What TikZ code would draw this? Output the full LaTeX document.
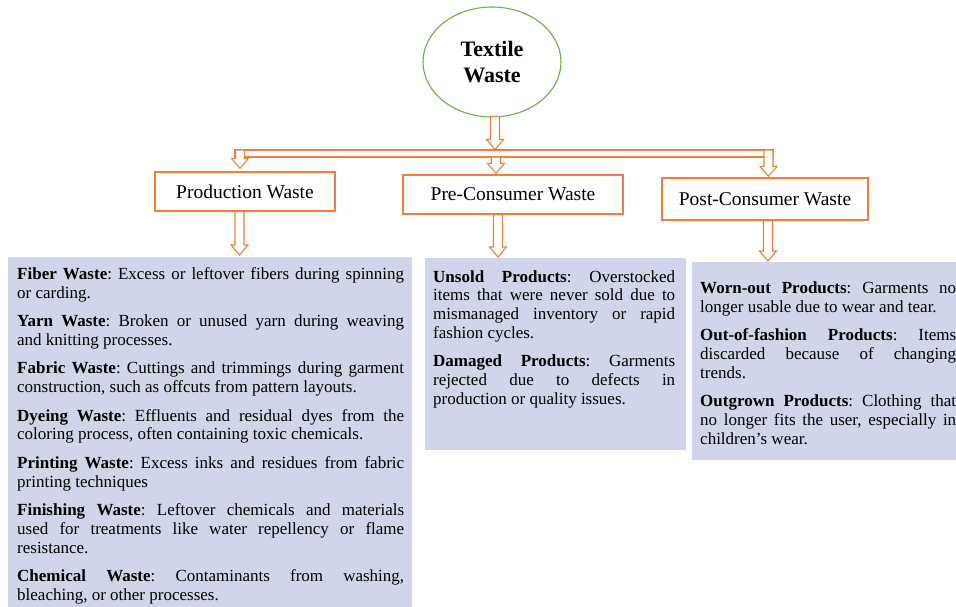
\documentclass[tikz,border=0pt]{standalone}
\usepackage{fontspec}
\setmainfont{Liberation Serif}
\usetikzlibrary{shapes.geometric,calc}

\definecolor{wasteorange}{RGB}{240,128,55}
\definecolor{rootgreen}{RGB}{112,173,71}
\definecolor{listfill}{RGB}{209,213,233}

% body text of the three lists: justified, no hyphenation
\newcommand\listfont{\fontsize{17}{18.8}\selectfont\frenchspacing
  \setlength\parskip{9.6pt}\setlength\parindent{0pt}%
  \tolerance=9999\hyphenpenalty=10000\relax}

\tikzset{
  arrowline/.style={draw=wasteorange, line width=1.1pt, fill=white, line join=miter},
  rootnode/.style={ellipse, draw=rootgreen, line width=1.1pt, fill=white,
    minimum width=138pt, minimum height=110pt, inner sep=0pt, align=center,
    font=\fontsize{22}{26}\selectfont\bfseries},
  headbox/.style={draw=wasteorange, line width=1.3pt, fill=white, inner sep=0pt,
    font=\fontsize{19.5}{22}\selectfont},
  listbox/.style={fill=listfill, draw=none, inner sep=0pt, anchor=north west},
  listtext/.style={anchor=base west, inner sep=0pt, align=justify, font=\listfont},
}

% hollow block arrow pointing down: #1 = top of the stem, #2 = tip
\newcommand\hollowdown[2]{%
  \draw[arrowline] let \p1=#1, \p2=#2 in
    (\x1-4.5pt,\y1) -- (\x1-4.5pt,\y2+10pt) -- (\x1-8.5pt,\y2+10pt) -- (\x1,\y2)
    -- (\x1+8.5pt,\y2+10pt) -- (\x1+4.5pt,\y2+10pt) -- (\x1+4.5pt,\y1) -- cycle;}

\begin{document}
\begin{tikzpicture}[x=1pt,y=-1pt]
  \useasboundingbox (0,0) rectangle (956,607);
  \fill[white] (0,0) rectangle (956,607);
  \clip (0,0) rectangle (956,607);

  % root
  \node[rootnode] (root) at (492,62) {Textile\\Waste};

  % three categories
  \node[headbox, minimum width=180pt, minimum height=39pt] (prod) at (245,191.5) {Production Waste};
  \node[headbox, minimum width=220pt, minimum height=39pt] (pre)  at (513,194.5) {Pre-Consumer Waste};
  \node[headbox, minimum width=206pt, minimum height=42pt] (post) at (765,199)   {Post-Consumer Waste};

  % shaded lists
  \node[listbox, minimum width=404pt, minimum height=355pt] (list1) at (8,257) {};
  \node[listbox, minimum width=261pt, minimum height=192pt] (list2) at (425,258) {};
  \node[listbox, minimum width=273pt, minimum height=198pt] (list3) at (692,262) {};

  \node[listtext, text width=387pt] (t1) at (17,279.5) {%
    \textbf{Fiber Waste}: Excess or leftover fibers during spinning\linebreak or carding.\par
    \textbf{Yarn Waste}: Broken or unused yarn during weaving\linebreak and knitting processes.\par
    \textbf{Fabric Waste}: Cuttings and trimmings during garment\linebreak construction, such as offcuts from pattern layouts.\par
    \textbf{Dyeing Waste}: Effluents and residual dyes from the\linebreak coloring process, often containing toxic chemicals.\par
    \textbf{Printing Waste}: Excess inks and residues from fabric\linebreak printing techniques\par
    \textbf{Finishing Waste}: Leftover chemicals and materials\linebreak used for treatments like water repellency or flame\linebreak resistance.\par
    \textbf{Chemical Waste}: Contaminants from washing,\linebreak bleaching, or other processes.};

  \node[listtext, text width=242pt] (t2) at (433,282) {%
    \textbf{Unsold Products}: Overstocked\linebreak items that were never sold due to\linebreak mismanaged inventory or rapid\linebreak fashion cycles.\par
    \textbf{Damaged Products}: Garments\linebreak rejected due to defects in\linebreak production or quality issues.};

  \node[listtext, text width=256pt] (t3) at (700,293.5) {%
    \textbf{Worn-out Products}: Garments no\linebreak longer usable due to wear and tear.\par
    \textbf{Out-of-fashion Products}: Items\linebreak discarded because of changing\linebreak trends.\par
    \textbf{Outgrown Products}: Clothing that\linebreak no longer fits the user, especially in\linebreak children’s wear.};

  % connector columns and the distribution bar
  \coordinate (colA) at (240,0);
  \coordinate (colB) at (496,0);
  \coordinate (colC) at (768.5,0);
  \coordinate (colD) at (239.5,0);
  \coordinate (colE) at (498,0);
  \coordinate (colF) at (768,0);
  \coordinate (barNW) at (235,150);
  \coordinate (barSE) at (773,157);
  \coordinate (barTop) at (495,149.5);

  \draw[arrowline] (barNW) rectangle (barSE);
  \hollowdown{($(root.south -| barTop)+(0,-1)$)}{(barTop)}
  \hollowdown{(barNW -| colA)}{($(prod.north -| colA)+(0,-3)$)}
  \hollowdown{(barSE -| colB)}{($(pre.north -| colB)+(0,-1)$)}
  \hollowdown{(barNW -| colC)}{($(post.north -| colC)+(0,-1)$)}

  % from categories to lists
  \hollowdown{(prod.south -| colD)}{($(list1.north -| colD)+(0,-2)$)}
  \hollowdown{(pre.south -| colE)}{($(list2.north -| colE)+(0,-1)$)}
  \hollowdown{(post.south -| colF)}{($(list3.north -| colF)+(0,-1)$)}
\end{tikzpicture}
\end{document}
